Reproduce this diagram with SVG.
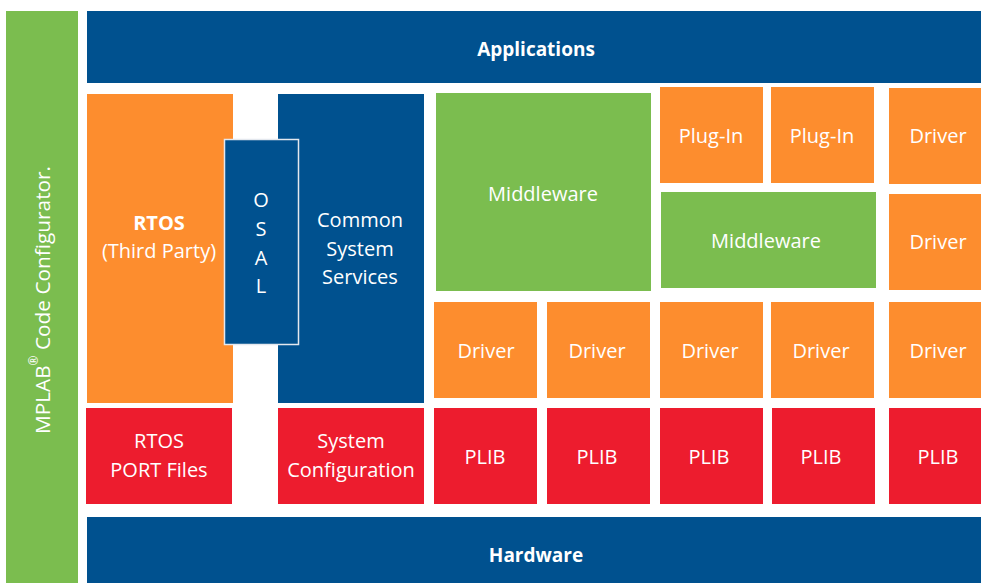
<svg xmlns="http://www.w3.org/2000/svg" width="981" height="583" viewBox="0 0 981 583">
<style>
.blue{fill:#00518F}
.orange{fill:#FD8D2E}
.green{fill:#7BBD4F}
.red{fill:#ED1C2E}
text{font-family:"Open Sans","Noto Sans","DejaVu Sans",sans-serif;font-size:20px;fill:#FFFFFF;text-anchor:middle;dominant-baseline:central}
.b{font-weight:bold;font-size:19px}
</style>
<rect width="981" height="583" fill="#FFFFFF"/>
<g id="mcc">
<rect class="green" x="6" y="11" width="72" height="572"/>
<text transform="translate(42,300) rotate(-90)" style="font-size:20.8px">MPLAB<tspan font-size="12" baseline-shift="super">®</tspan> Code Configurator.</text>
</g>
<g id="applications">
<rect class="blue" x="87" y="11" width="894" height="72"/>
<text class="b" x="536" y="48.5">Applications</text>
</g>
<g id="rtos">
<rect class="orange" x="87" y="94" width="146" height="309"/>
<text x="159" y="222" style="font-weight:bold">RTOS</text>
<text x="159" y="250">(Third Party)</text>
</g>
<g id="css">
<rect class="blue" x="278" y="94" width="146" height="309"/>
<text x="360" y="219">Common</text>
<text x="360" y="248">System</text>
<text x="360" y="276">Services</text>
</g>
<g id="osal">
<rect class="blue" x="224.5" y="139.5" width="74" height="205" stroke="#E4E8EE" stroke-width="1.5"/>
<text x="261" y="199">O</text>
<text x="261" y="228">S</text>
<text x="261" y="257">A</text>
<text x="261" y="285">L</text>
</g>
<g id="middleware1">
<rect class="green" x="436" y="93" width="215" height="198"/>
<text x="543" y="193">Middleware</text>
</g>
<g id="plugin1">
<rect class="orange" x="660" y="87" width="103" height="96"/>
<text x="711" y="135">Plug-In</text>
</g>
<g id="plugin2">
<rect class="orange" x="771" y="87" width="103" height="96"/>
<text x="822" y="135">Plug-In</text>
</g>
<g id="driver-r1">
<rect class="orange" x="889" y="88" width="92" height="96"/>
<text x="938" y="135">Driver</text>
</g>
<g id="middleware2">
<rect class="green" x="661" y="192" width="215" height="96"/>
<text x="766" y="240">Middleware</text>
</g>
<g id="driver-r2">
<rect class="orange" x="889" y="194" width="92" height="96"/>
<text x="938" y="241">Driver</text>
</g>
<g id="driver1">
<rect class="orange" x="434" y="302" width="103" height="96"/>
<text x="486" y="350">Driver</text>
</g>
<g id="driver2">
<rect class="orange" x="547" y="302" width="103" height="96"/>
<text x="597" y="350">Driver</text>
</g>
<g id="driver3">
<rect class="orange" x="660" y="302" width="103" height="96"/>
<text x="710" y="350">Driver</text>
</g>
<g id="driver4">
<rect class="orange" x="771" y="302" width="103" height="96"/>
<text x="821" y="350">Driver</text>
</g>
<g id="driver5">
<rect class="orange" x="889" y="302" width="92" height="96"/>
<text x="938" y="350">Driver</text>
</g>
<g id="rtos-port">
<rect class="red" x="86" y="408" width="146" height="96"/>
<text x="159" y="440">RTOS</text>
<text x="159" y="469">PORT Files</text>
</g>
<g id="sysconfig">
<rect class="red" x="278" y="408" width="146" height="96"/>
<text x="351" y="440">System</text>
<text x="351" y="469">Configuration</text>
</g>
<g id="plib1">
<rect class="red" x="434" y="408" width="103" height="96"/>
<text x="485" y="456">PLIB</text>
</g>
<g id="plib2">
<rect class="red" x="547" y="408" width="103" height="96"/>
<text x="597" y="456">PLIB</text>
</g>
<g id="plib3">
<rect class="red" x="660" y="408" width="103" height="96"/>
<text x="709" y="456">PLIB</text>
</g>
<g id="plib4">
<rect class="red" x="772" y="408" width="103" height="96"/>
<text x="821" y="456">PLIB</text>
</g>
<g id="plib5">
<rect class="red" x="889" y="408" width="92" height="96"/>
<text x="938" y="456">PLIB</text>
</g>
<g id="hardware">
<rect class="blue" x="87" y="517" width="894" height="66"/>
<text class="b" x="536" y="554.5">Hardware</text>
</g>
<g id="connectors"></g>
</svg>
